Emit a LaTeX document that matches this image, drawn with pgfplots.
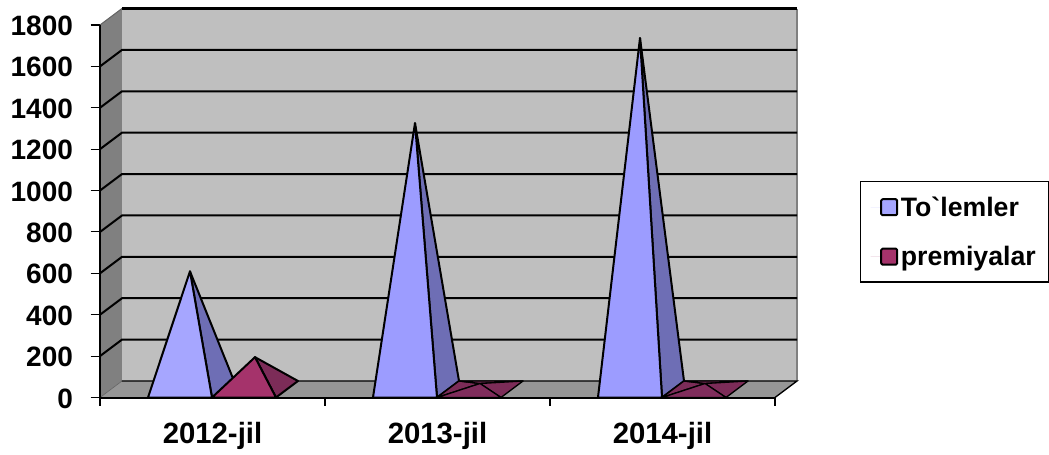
\documentclass[border=0pt]{standalone}
\usepackage{pgfplots}
\usepackage{fontspec}
\setmainfont{Liberation Sans}
\newfontfamily\lgfont{Liberation Sans}
\pgfplotsset{compat=1.18}
\definecolor{bluef}{HTML}{A6A6FF}
\definecolor{blueg}{HTML}{9C9CFF}
\definecolor{bluer}{HTML}{6E6EB5}
\definecolor{purf}{HTML}{A5336B}
\definecolor{purr}{HTML}{7C2C58}
\definecolor{purs}{HTML}{802D5C}
\begin{document}
\begin{tikzpicture}[x=1pt,y=1pt]
\begin{axis}[
  scale only axis, width=522.75pt, height=291.75pt,
  xmin=0, xmax=3.0978, ymin=0, ymax=1879.8,
  clip=false,
  axis line style={draw=none},
  axis x line*=bottom, axis y line*=left,
  xtick={0.5,1.5,2.5},
  xticklabels={2012-jil,2013-jil,2014-jil},
  minor xtick={0,1,2,3},
  ytick={0,200,...,1800},
  /pgf/number format/assume math mode=true,
  /pgf/number format/1000 sep={},
  y tick label style={font=\fontsize{21}{24}\selectfont\bfseries,xshift=-9.75pt,yshift=-0.7pt},
  x tick label style={yshift=-8pt, font=\fontsize{22}{25}\selectfont\bfseries},
  major x tick style={draw=none},
  minor x tick style={black,line width=0.8pt},
  minor tick length=6pt,
  y tick style={black,line width=0.8pt},
  major tick length=7pt,
  tick align=outside,
  legend style={at={(axis cs:3.3778,1045)},anchor=north west,draw=black,line width=0.8pt,
    font=\fontsize{20}{23}\selectfont\bfseries,inner xsep=7.5pt,inner ysep=9pt,
    row sep=17pt},
  legend cell align=left,
  legend image code/.code={\path[draw=none] (0pt,0pt) -- (20.5pt,0pt);\draw[#1,line width=1.5pt,rounded corners=1pt,draw=black] (8pt,-6pt) rectangle (20pt,6pt);},
]
% page extent
\path (axis cs:-0.4444,-246.8) -- (axis cs:4.2178,1920.9);
% walls
\addplot[fill=black!25,draw=none,forget plot] coordinates {(0.0978,79.8)(3.0978,79.8)(3.0978,1879.8)(0.0978,1879.8)} -- cycle;
\addplot[fill=black!50,draw=none,forget plot] coordinates {(0,0)(0.0978,79.8)(0.0978,1879.8)(0,1800)} -- cycle;
\addplot[fill=black!41,draw=none,forget plot] coordinates {(0,0)(0.0978,79.8)(3.0978,79.8)(3,0)} -- cycle;
\addplot[black!50,line width=1.2pt,forget plot] coordinates {(3.0978,79.8)(3.0978,1879.8)};
\addplot[black!60,line width=0.8pt,forget plot] coordinates {(0,1800)(0.0978,1879.8)};
\addplot[black!60,line width=0.5pt,forget plot] coordinates {(0,0)(0.0978,79.8)};
\addplot[black,line width=1pt,forget plot] coordinates {(0.0978,79.8)(3.0978,79.8)(3,0)};
\addplot[black,line width=1.6pt,forget plot] coordinates {(0.0978,1879.8)(3.0978,1879.8)};
% gridlines
\addplot[black,line width=1.5pt,forget plot] coordinates {(0,200)(0.0978,279.8)(3.0978,279.8)};
\addplot[black,line width=1.5pt,forget plot] coordinates {(0,400)(0.0978,479.8)(3.0978,479.8)};
\addplot[black,line width=1.5pt,forget plot] coordinates {(0,600)(0.0978,679.8)(3.0978,679.8)};
\addplot[black,line width=1.5pt,forget plot] coordinates {(0,800)(0.0978,879.8)(3.0978,879.8)};
\addplot[black,line width=1.5pt,forget plot] coordinates {(0,1000)(0.0978,1079.8)(3.0978,1079.8)};
\addplot[black,line width=1.5pt,forget plot] coordinates {(0,1200)(0.0978,1279.8)(3.0978,1279.8)};
\addplot[black,line width=1.5pt,forget plot] coordinates {(0,1400)(0.0978,1479.8)(3.0978,1479.8)};
\addplot[black,line width=1.5pt,forget plot] coordinates {(0,1600)(0.0978,1679.8)(3.0978,1679.8)};
% --- 2012 ---
\addplot[fill=bluer,draw=black,line width=1.5pt,line join=round,forget plot] coordinates {(0.4978,0)(0.5956,79.8)(0.4,609.7)} -- cycle;
\addplot[fill=bluef,draw=black,line width=1.5pt,line join=round] coordinates {(0.2133,0)(0.4978,0)(0.4,609.7)} -- cycle;
\addplot[fill=purr,draw=black,line width=1.5pt,line join=round,forget plot] coordinates {(0.7822,0)(0.88,79.8)(0.6889,195)} -- cycle;
\addplot[fill=purf,draw=black,line width=1.5pt,line join=round] coordinates {(0.4978,0)(0.7822,0)(0.6889,195)} -- cycle;
% --- 2013 ---
\addplot[fill=bluer,draw=black,line width=1.5pt,line join=round,forget plot] coordinates {(1.4978,0)(1.5956,79.8)(1.4,1325.8)} -- cycle;
\addplot[fill=blueg,draw=black,line width=1.5pt,line join=round,forget plot] coordinates {(1.2133,0)(1.4978,0)(1.4,1325.8)} -- cycle;
\addplot[fill=purr,draw=black,line width=1pt,line join=round,forget plot] coordinates {(1.4978,0)(1.5956,79.8)(1.689,67.7)} -- cycle;
\addplot[fill=purr,draw=black,line width=1pt,line join=round,forget plot] coordinates {(1.5956,79.8)(1.88,79.8)(1.689,67.7)} -- cycle;
\addplot[fill=purr,draw=black,line width=1pt,line join=round,forget plot] coordinates {(1.7822,0)(1.88,79.8)(1.689,67.7)} -- cycle;
\addplot[fill=purs,draw=black,line width=1pt,line join=round,forget plot] coordinates {(1.4978,0)(1.7822,0)(1.689,67.7)} -- cycle;
% --- 2014 ---
\addplot[fill=bluer,draw=black,line width=1.5pt,line join=round,forget plot] coordinates {(2.4978,0)(2.5956,79.8)(2.4,1737)} -- cycle;
\addplot[fill=blueg,draw=black,line width=1.5pt,line join=round,forget plot] coordinates {(2.2133,0)(2.4978,0)(2.4,1737)} -- cycle;
\addplot[fill=purr,draw=black,line width=1pt,line join=round,forget plot] coordinates {(2.4978,0)(2.5956,79.8)(2.689,67.7)} -- cycle;
\addplot[fill=purr,draw=black,line width=1pt,line join=round,forget plot] coordinates {(2.5956,79.8)(2.88,79.8)(2.689,67.7)} -- cycle;
\addplot[fill=purr,draw=black,line width=1pt,line join=round,forget plot] coordinates {(2.7822,0)(2.88,79.8)(2.689,67.7)} -- cycle;
\addplot[fill=purs,draw=black,line width=1pt,line join=round,forget plot] coordinates {(2.4978,0)(2.7822,0)(2.689,67.7)} -- cycle;
% front axis lines
\addplot[black,line width=1.5pt,forget plot] coordinates {(0,1800)(0,0)(3,0)};
\legend{{\lgfont\bfseries To`lemler},{\lgfont\bfseries premiyalar}}
\end{axis}
\end{tikzpicture}
\end{document}
